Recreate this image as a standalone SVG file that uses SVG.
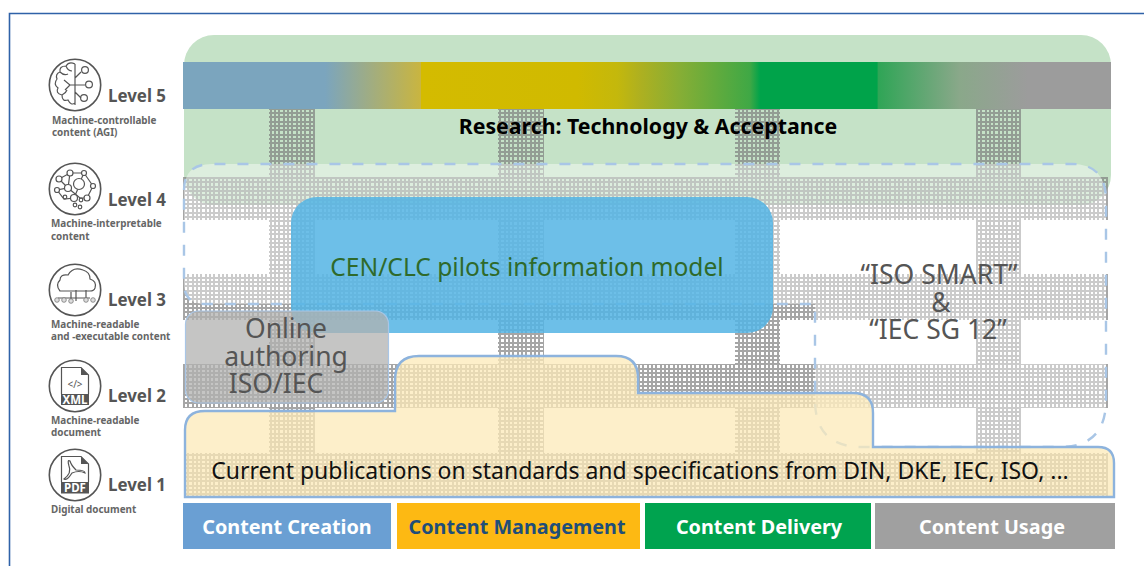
<svg xmlns="http://www.w3.org/2000/svg" width="1144" height="566" viewBox="0 0 1144 566">
<style>
text{font-family:"Noto Sans","Open Sans","DejaVu Sans",sans-serif}
.lvl{font-size:16.900px;font-weight:700;fill:#555}
.cap{font-size:9.900px;font-weight:700;fill:#666}
.ring{fill:#fff;stroke:#555;stroke-width:1.6}
.ic{fill:none;stroke:#555;stroke-width:1.2}
.bt{font-size:19.800px;font-weight:700;fill:#fff;text-anchor:middle}
.g{font-size:26.500px;fill:#555;text-anchor:middle}
</style>
<defs>
<pattern id="grid" patternUnits="userSpaceOnUse" x="183" y="177" width="13" height="13">
<path shape-rendering="crispEdges" fill="#7c7c7c" d="M0 0H13V2H0ZM0 4H13V6H0ZM0 9H13V11H0ZM0 2H2V4H0ZM4 2H6V4H4ZM9 2H11V4H9ZM0 6H2V9H0ZM4 6H6V9H4ZM9 6H11V9H9ZM0 11H2V13H0ZM4 11H6V13H4ZM9 11H11V13H9Z"/>
</pattern>
<linearGradient id="bar" gradientUnits="userSpaceOnUse" x1="183" y1="0" x2="1111" y2="0">
<stop offset="0.153" stop-color="#7ba5be"/>
<stop offset="0.256" stop-color="#c9b540"/>
<stop offset="0.257" stop-color="#d4bb00"/>
<stop offset="0.425" stop-color="#d0ba00"/>
<stop offset="0.4677" stop-color="#c4b80c"/>
<stop offset="0.4925" stop-color="#aeb020"/>
<stop offset="0.5356" stop-color="#86ae35"/>
<stop offset="0.611" stop-color="#3fa845"/>
<stop offset="0.6218" stop-color="#00a34a"/>
<stop offset="0.748" stop-color="#00a34a"/>
<stop offset="0.749" stop-color="#2fa556"/>
<stop offset="0.837" stop-color="#8aa88a"/>
<stop offset="0.91" stop-color="#9c9c9c"/>
</linearGradient>
</defs>
<rect width="1144" height="566" fill="#fff"/>
<path d="M9.5 566V13.5H1144" fill="none" stroke="#2f62a8" stroke-width="1.6"/>

<g id="research">
<rect x="184" y="35" width="927" height="170" rx="30" fill="#c5e2c7"/>
</g>
<g id="matrix">
<path fill="url(#grid)" opacity="0.68" d="M269 109H315V177H498V109H544V177H735V109H780V177H976V109H1021V177H1108V220H1021V274H1108V320H1021V364H1108V408H1021V453H1108V497H184V453H269V408H183V364H269V320H183V274H269V220H183V177H269ZM315 220V274H498V220ZM544 220V274H735V220ZM780 220V274H976V220ZM315 320V364H498V320ZM544 320V364H735V320ZM780 320V364H976V320ZM315 408V453H498V408ZM544 408V453H735V408ZM780 408V453H976V408Z" fill-rule="evenodd"/>
</g>
<g id="iso-iec-smart">
<path d="M184 190Q184 164 212 164H1072Q1106 164 1106 200V400Q1106 447 1060 447H862Q815 447 815 400V304H205Q184 304 184 283Z" fill="#fff" fill-opacity="0.42" stroke="#a9c6e6" stroke-width="2.4" stroke-dasharray="11 12"/>
<text class="g" x="939" y="284">“ISO SMART”</text>
<text class="g" x="941" y="312">&amp;</text>
<text class="g" x="938" y="339">“IEC SG 12”</text>
</g>
<g id="gradient-bar">
<rect x="183" y="62" width="928" height="47" fill="url(#bar)"/>
</g>
<g id="cen-clc">
<rect x="291" y="197" width="482" height="136" rx="26" fill="#53b4e4" fill-opacity="0.85"/>
<text x="527" y="276" font-size="24.600" fill="#2f6a2b" text-anchor="middle">CEN/CLC pilots information model</text>
</g>
<g id="current-publications">
<path d="M185 497V430Q185 411 205 411H395V380Q395 356 419 356H616Q638 356 638 378V393H853Q873 393 873 413V447H1098Q1114 447 1114 463V497Z" fill="#fceab8" fill-opacity="0.75" stroke="#8db3dd" stroke-width="2.4"/>
<text x="640" y="479" font-size="23" fill="#111" text-anchor="middle">Current publications on standards and specifications from DIN, DKE, IEC, ISO, ...</text>
</g>
<g id="online-authoring">
<rect x="185.500" y="311" width="203" height="92" rx="13" fill="#b1b1b0" fill-opacity="0.75" stroke="#a9c6e6" stroke-width="1.2"/>
<text class="g" x="286" y="338">Online</text>
<text class="g" x="286" y="366">authoring</text>
<text class="g" x="276" y="393">ISO/IEC</text>
</g>
<g id="research-label">
<text x="648" y="134" font-size="21.300" font-weight="700" fill="#000" text-anchor="middle">Research: Technology &amp; Acceptance</text>
</g>

<g id="content-creation"><rect x="183" y="503" width="208" height="46" fill="#6a9fd3"/><text class="bt" x="287" y="534">Content Creation</text></g>
<g id="content-management"><rect x="397" y="503" width="243" height="46" fill="#fdb913"/><text class="bt" x="517" y="534" style="fill:#1f4e79">Content Management</text></g>
<g id="content-delivery"><rect x="645" y="503" width="226" height="46" fill="#00a34f"/><text class="bt" x="759" y="534">Content Delivery</text></g>
<g id="content-usage"><rect x="875" y="503" width="240" height="46" fill="#a0a0a0"/><text class="bt" x="992" y="534">Content Usage</text></g>

<g id="level-5">
<circle class="ring" cx="75" cy="85" r="25.700"/>
<path class="ic" d="M75 64V105M75 85H85M75 78L81 72M75 92L81 98M75 64Q69 61 66 66Q59 66 60 72Q55 74 57 79Q53 84 58 88Q55 93 62 95Q62 102 68 100Q71 106 75 103M64 80L70 85L65 90M70 85H75M66 66Q68 71 72 71M60 72Q64 76 68 74M62 95Q66 93 67 90"/>
<circle class="ic" cx="85" cy="70" r="3.400"/><circle class="ic" cx="89" cy="84.500" r="3.400"/><circle class="ic" cx="84" cy="98" r="3.400"/>
<text class="lvl" x="108" y="102">Level 5</text>
<text class="cap" x="52" y="124">Machine-controllable</text><text class="cap" x="52" y="136">content (AGI)</text>
</g>
<g id="level-4">
<circle class="ring" cx="75" cy="189" r="25.700"/>
<path class="ic" d="M59 179L70 173L84 173L93 186L87 198L80 198L68 188L57 190L64 199L74 198L80 184M70 173L68 188M84 173L79 184M59 179L68 188"/>
<g fill="#fff" stroke="#555" stroke-width="1.200"><circle cx="79" cy="184" r="5.500"/><circle cx="70" cy="173" r="3"/><circle cx="84" cy="173" r="2.500"/><circle cx="59" cy="179" r="3"/><circle cx="68" cy="188" r="3.500"/><circle cx="57" cy="190" r="2.500"/><circle cx="93" cy="186" r="2.500"/><circle cx="87" cy="198" r="3"/><circle cx="74" cy="198" r="3.500"/><circle cx="65" cy="197" r="1.800"/><circle cx="81" cy="200" r="1.800"/><circle cx="75" cy="205" r="1.800"/><circle cx="80" cy="207" r="1.800"/></g>
<text class="lvl" x="108" y="206">Level 4</text>
<text class="cap" x="51" y="227">Machine-interpretable</text><text class="cap" x="51" y="240">content</text>
</g>
<g id="level-3">
<circle class="ring" cx="75" cy="290" r="25.700"/>
<path class="ic" d="M60 291Q55 285 60 280Q60 274 68 275Q73 266 83 270Q90 272 90 279Q97 281 95 288Q94 291 90 291H60ZM71 292V300M76 290V301M86 290V298M58 298H90"/>
<g fill="#ddd" stroke="#777" stroke-width="0.800"><circle cx="57" cy="300" r="2.300"/><circle cx="64" cy="300" r="2.300"/><circle cx="71" cy="301" r="2.300"/><circle cx="86" cy="300" r="2.300"/><circle cx="93" cy="300" r="2.300"/></g>
<text class="lvl" x="108" y="306">Level 3</text>
<text class="cap" x="51" y="328">Machine-readable</text><text class="cap" x="51" y="340">and -executable content</text>
</g>
<g id="level-2">
<circle class="ring" cx="75" cy="386" r="25.700"/>
<path d="M61.500 394V367.500H81L88.500 375V394" fill="none" stroke="#555" stroke-width="1.200"/>
<path d="M81 367.500V375H88.500Z" fill="#555"/>
<rect x="61" y="394" width="28" height="11" fill="#555"/>
<text x="75" y="388" font-size="10" fill="#555" text-anchor="middle">&lt;/&gt;</text>
<text x="75" y="404" font-size="11.500" font-weight="700" fill="#fff" text-anchor="middle">XML</text>
<text class="lvl" x="108" y="402">Level 2</text>
<text class="cap" x="51" y="424">Machine-readable</text><text class="cap" x="51" y="436">document</text>
</g>
<g id="level-1">
<circle class="ring" cx="75" cy="475" r="25.700"/>
<path d="M61.500 482V456.500H81L88.500 464V482" fill="none" stroke="#555" stroke-width="1.200"/>
<path d="M81 456.500V464H88.500Z" fill="#555"/>
<rect x="61" y="482" width="28" height="11.500" fill="#555"/>
<path class="ic" d="M70 461Q67 459 69 466Q72 473 64 479Q67 481 72 473Q79 470 85 473Q85 470 76 470Q71 465 70 461Z"/>
<text x="75" y="492" font-size="11.500" font-weight="700" fill="#fff" text-anchor="middle">PDF</text>
<text class="lvl" x="108" y="491">Level 1</text>
<text class="cap" x="51" y="513">Digital document</text>
</g>
</svg>
